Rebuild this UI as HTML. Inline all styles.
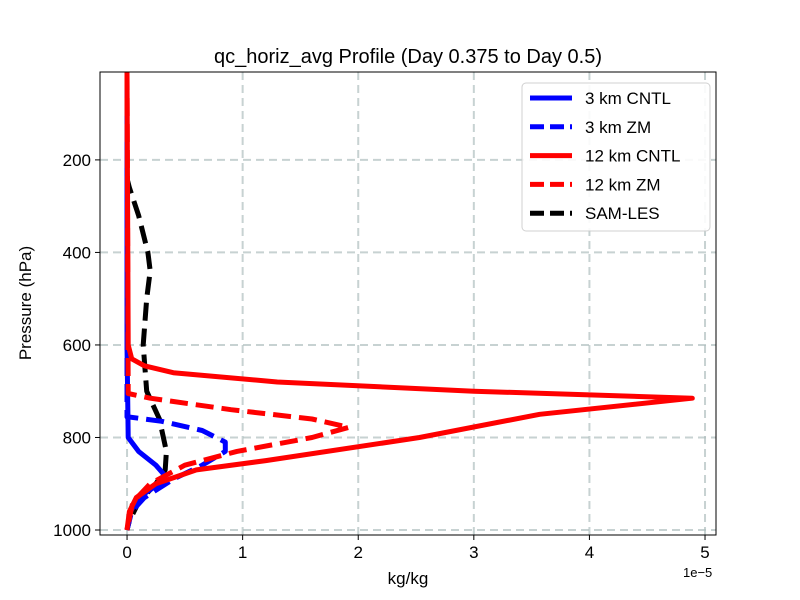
<!DOCTYPE html>
<html><head><meta charset="utf-8"><style>body{margin:0;background:#fff}svg{display:block;font-family:"Liberation Sans",sans-serif}</style></head>
<body>
<svg id="chart" width="800" height="600" viewBox="0 0 800 600">
<rect width="800" height="600" fill="#fff"/>
<g id="grid"></g><g id="series"></g><g id="axes"></g><g id="legend"></g>
</svg>
<script>
const xTicks=[0,1,2,3,4,5];
const yTicks=[200,400,600,800,1000];
const seriesNames=["3 km CNTL","3 km ZM","12 km CNTL","12 km ZM","SAM-LES"];
const redCntlP=[10,600,630,645,660,680,700,715,750,800,850,870,900,930,960,1000];
const redCntlV=[0,0.01,0.04,0.15,0.4,1.3,3.0,4.89,3.57,2.53,1.2,0.6,0.25,0.08,0.02,0];
const redZmP=[10,705,715,740,760,778,800,830,860,900,940,1000];
const redZmV=[0,0.01,0.2,0.9,1.6,1.92,1.6,0.95,0.5,0.2,0.05,0];
const blueCntlP=[10,600,800,830,860,880,900,930,960,1000];
const blueCntlV=[0,0,0.01,0.1,0.25,0.32,0.28,0.1,0.03,0];
const blueZmP=[10,755,765,785,810,830,860,890,930,960,1000];
const blueZmV=[0,0,0.3,0.65,0.85,0.85,0.65,0.4,0.15,0.04,0];
const lesP=[10,240,260,320,400,440,500,600,700,760,830,870,900,940,980,1000];
const lesV=[0,0,0.02,0.1,0.18,0.2,0.17,0.14,0.17,0.28,0.34,0.33,0.25,0.1,0.02,0];
const NS="http://www.w3.org/2000/svg";
const L=100,R=716,T=72,B=535;
const xMin=-0.234,xMax=5.095,pTop=10,pBot=1010.8;
const xs=v=>L+(v-xMin)/(xMax-xMin)*(R-L);
const ys=p=>T+(p-pTop)/(pBot-pTop)*(B-T);
function el(t,a,parent){const e=document.createElementNS(NS,t);for(const k in a)e.setAttribute(k,a[k]);parent.appendChild(e);return e;}
const grid=document.getElementById('grid'),axes=document.getElementById('axes'),ser=document.getElementById('series'),leg=document.getElementById('legend');
xTicks.forEach(t=>{const x=xs(t);
const g=el('line',{x1:x,x2:x,y1:T,y2:B,stroke:'#b0bfbf','stroke-width':2,'stroke-dasharray':'8,5','opacity':0.7},grid);


el('line',{x1:x,x2:x,y1:B,y2:B+5,stroke:'#000','stroke-width':1},axes);
const tx=el('text',{x:x,y:B+23,'font-size':17,'text-anchor':'middle'},axes);tx.textContent=t;

});
yTicks.forEach(t=>{const y=ys(t);
const g=el('line',{x1:L,x2:R,y1:y,y2:y,stroke:'#b0bfbf','stroke-width':2,'stroke-dasharray':'8,5','opacity':0.7},grid);


el('line',{x1:L-5,x2:L,y1:y,y2:y,stroke:'#000','stroke-width':1},axes);
const tx=el('text',{x:L-9,y:y+6,'font-size':17,'text-anchor':'end'},axes);tx.textContent=t;

});
const frame=el('rect',{x:L,y:T,width:R-L,height:B-T,fill:'none',stroke:'#000','stroke-width':1},axes);


const defs=[[blueCntlP,blueCntlV,'#0000ff',null],[blueZmP,blueZmV,'#0000ff','18,8'],[redCntlP,redCntlV,'#ff0000',null],[redZmP,redZmV,'#ff0000','18,8'],[lesP,lesV,'#000','18,8']];
const order=[4,0,1,2,3];
order.forEach(i=>{const d=defs[i];
const pts=d[0].map((p,j)=>xs(d[1][j]).toFixed(1)+','+ys(p).toFixed(1)).join(' ');
const a={points:pts,fill:'none',stroke:d[2],'stroke-width':5,'stroke-linejoin':'round'};if(d[3])a['stroke-dasharray']=d[3];
const pl=el('polyline',a,ser);

});
const box=el('rect',{x:522,y:83,width:188,height:148,rx:4,fill:'#fff',stroke:'#ccc','stroke-width':1,opacity:0.9},leg);


seriesNames.forEach((n,i)=>{const y=98+i*28.8,d=defs[i];
const a={x1:530,x2:572,y1:y,y2:y,stroke:d[2],'stroke-width':5};if(d[3])a['stroke-dasharray']='14,6';
const ln=el('line',a,leg);


const tx=el('text',{x:585,y:y+6,'font-size':17},leg);tx.textContent=n;

});
</script>
<svg style="position:absolute;left:0;top:0" width="800" height="600">
<text x="408" y="63" font-size="20" text-anchor="middle" font-family="Liberation Sans,sans-serif">qc_horiz_avg Profile (Day 0.375 to Day 0.5)</text>
<text x="408" y="584" font-size="17" text-anchor="middle" font-family="Liberation Sans,sans-serif">kg/kg</text>
<text x="683" y="577" font-size="13" font-family="Liberation Sans,sans-serif">1e−5</text>
<text transform="translate(31,303) rotate(-90)" font-size="17" text-anchor="middle" font-family="Liberation Sans,sans-serif">Pressure (hPa)</text>
</svg>
</body></html>
